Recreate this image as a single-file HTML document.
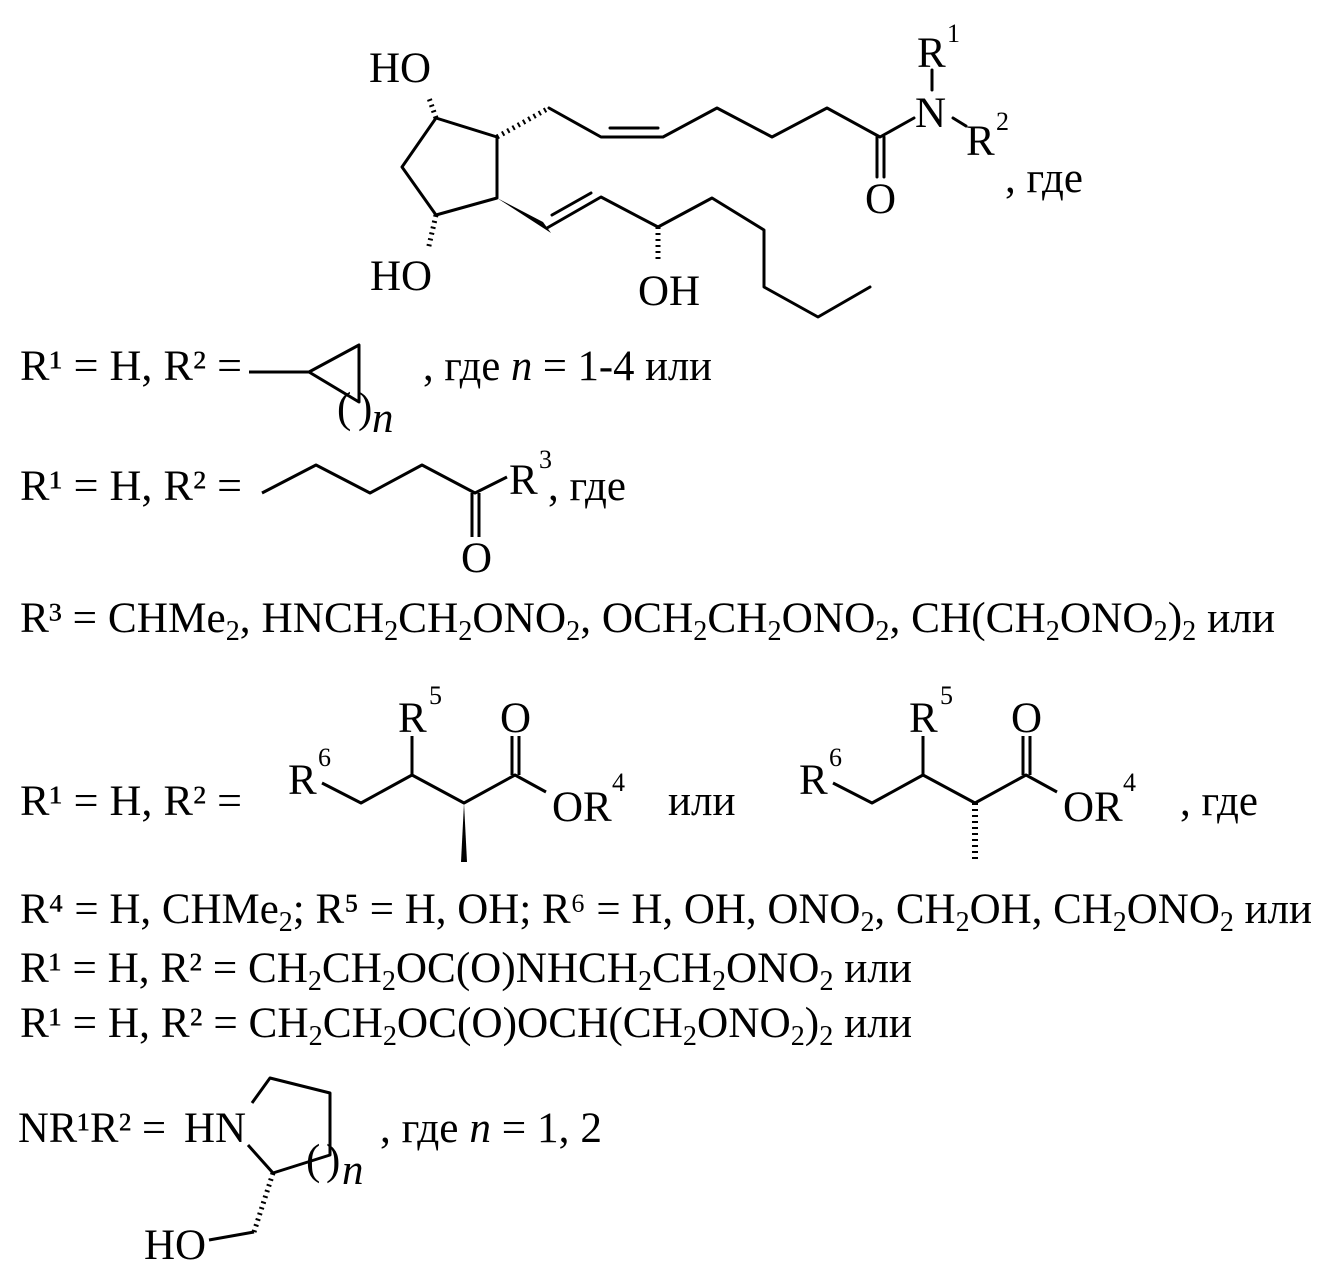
<!DOCTYPE html>
<html><head><meta charset="utf-8"><style>
html,body{margin:0;padding:0;background:#fff}
svg{display:block}
text{font-family:"Liberation Serif","Noto Serif CJK SC",serif;fill:#000}
</style></head><body>
<svg width="1340" height="1275" viewBox="0 0 1340 1275" xmlns="http://www.w3.org/2000/svg">
<g stroke="#000" stroke-width="3" fill="none" stroke-linejoin="round" stroke-linecap="round">
<polyline points="436,118 497,137 497,198 436,215 402,167 436,118"/>
<polyline points="549,108 601,137 663,137 717,108 772,137 827,108 880,137 914,118"/>
<line x1="610" y1="128" x2="658" y2="128"/>
<line x1="877" y1="137" x2="877" y2="177"/><line x1="884" y1="137" x2="884" y2="177"/>
<line x1="932" y1="70" x2="932" y2="90"/>
<line x1="953" y1="118" x2="966" y2="126"/>
<polyline points="547,228 601,197 658,227 712,198 764,230 764,287 818,317 870,287"/>
<line x1="552" y1="215" x2="591" y2="193"/>
</g>
<g stroke="#000" stroke-width="5" stroke-dasharray="2,4" fill="none">
<line x1="436" y1="118" x2="429" y2="98"/>
<line x1="436" y1="215" x2="428" y2="250"/>
<line x1="497" y1="137" x2="549" y2="108"/>
<line x1="658" y1="227" x2="658" y2="260"/>
</g>
<polygon points="497,198 543,222 551,233" fill="#000"/>
<g font-size="43">
<text x="369" y="82">HO</text>
<text x="370" y="290">HO</text>
<text x="638" y="305">OH</text>
<text x="865" y="213">O</text>
<text x="915" y="127">N</text>
<text x="917" y="67">R</text><text x="947" y="42" font-size="26">1</text>
<text x="966" y="155">R</text><text x="996" y="130" font-size="26">2</text>
<text x="1005" y="192">, где</text>
</g>

<g font-size="43">
<text x="20" y="380" textLength="222" lengthAdjust="spacingAndGlyphs">R¹ = H, R² =</text>
<text x="423" y="380" textLength="289" lengthAdjust="spacingAndGlyphs">, где <tspan font-style="italic">n</tspan> = 1-4 или</text>
<text x="337" y="422">(</text><text x="358" y="422">)</text><text x="372" y="432" font-style="italic">n</text>
</g>
<g stroke="#000" stroke-width="3" fill="none" stroke-linejoin="round">
<line x1="249" y1="372" x2="309" y2="372"/>
<polyline points="309,372 359,345 359,402 309,372"/>
</g>
<g stroke="#000" stroke-width="3" fill="none" stroke-linejoin="round">
<polyline points="262,493 316,465 370,493 422,465 475,493 507,477"/>
<line x1="472" y1="493" x2="472" y2="537"/><line x1="479" y1="493" x2="479" y2="537"/>
</g>
<g font-size="43">
<text x="20" y="500" textLength="222" lengthAdjust="spacingAndGlyphs">R¹ = H, R² =</text>
<text x="509" y="494">R</text><text x="539" y="468" font-size="26">3</text>
<text x="548" y="500">, где</text>
<text x="461" y="572">O</text>
<text x="20" y="632" textLength="1255" lengthAdjust="spacingAndGlyphs">R³ = CHMe<tspan font-size="28" dy="8">2</tspan><tspan dy="-8">, HNCH</tspan><tspan font-size="28" dy="8">2</tspan><tspan dy="-8">CH</tspan><tspan font-size="28" dy="8">2</tspan><tspan dy="-8">ONO</tspan><tspan font-size="28" dy="8">2</tspan><tspan dy="-8">, OCH</tspan><tspan font-size="28" dy="8">2</tspan><tspan dy="-8">CH</tspan><tspan font-size="28" dy="8">2</tspan><tspan dy="-8">ONO</tspan><tspan font-size="28" dy="8">2</tspan><tspan dy="-8">, CH(CH</tspan><tspan font-size="28" dy="8">2</tspan><tspan dy="-8">ONO</tspan><tspan font-size="28" dy="8">2</tspan><tspan dy="-8">)</tspan><tspan font-size="28" dy="8">2</tspan><tspan dy="-8"> или</tspan></text>
</g>
<g stroke="#000" stroke-width="3" fill="none" stroke-linejoin="round">
<polyline points="322,783 361,803 412,775 464,803 515,775 546,792"/>
<line x1="412" y1="775" x2="412" y2="736"/>
<line x1="512" y1="775" x2="512" y2="736"/><line x1="519" y1="775" x2="519" y2="736"/>
<polyline points="833,783 872,803 923,775 975,803 1026,775 1057,792"/>
<line x1="923" y1="775" x2="923" y2="736"/>
<line x1="1023" y1="775" x2="1023" y2="736"/><line x1="1030" y1="775" x2="1030" y2="736"/>
</g>
<polygon points="464,803 461,862 467,862" fill="#000"/>
<line x1="975" y1="803" x2="975" y2="862" stroke="#000" stroke-width="6" stroke-dasharray="2,4"/>
<g font-size="43">
<text x="20" y="815" textLength="222" lengthAdjust="spacingAndGlyphs">R¹ = H, R² =</text>
<text x="288" y="794">R</text><text x="318" y="766" font-size="26">6</text>
<text x="398" y="732">R</text><text x="429" y="704" font-size="26">5</text>
<text x="500" y="732">O</text>
<text x="552" y="821">OR</text><text x="612" y="791" font-size="26">4</text>
<text x="668" y="815">или</text>
<text x="799" y="794">R</text><text x="829" y="766" font-size="26">6</text>
<text x="909" y="732">R</text><text x="940" y="704" font-size="26">5</text>
<text x="1011" y="732">O</text>
<text x="1063" y="821">OR</text><text x="1123" y="791" font-size="26">4</text>
<text x="1180" y="815">, где</text>
</g>
<g font-size="43">
<text x="20" y="923" textLength="1292" lengthAdjust="spacingAndGlyphs">R⁴ = H, CHMe<tspan font-size="28" dy="8">2</tspan><tspan dy="-8">; R⁵ = H, OH; R⁶ = H, OH, ONO</tspan><tspan font-size="28" dy="8">2</tspan><tspan dy="-8">, CH</tspan><tspan font-size="28" dy="8">2</tspan><tspan dy="-8">OH, CH</tspan><tspan font-size="28" dy="8">2</tspan><tspan dy="-8">ONO</tspan><tspan font-size="28" dy="8">2</tspan><tspan dy="-8"> или</tspan></text>
<text x="20" y="982" textLength="892" lengthAdjust="spacingAndGlyphs">R¹ = H, R² = CH<tspan font-size="28" dy="8">2</tspan><tspan dy="-8">CH</tspan><tspan font-size="28" dy="8">2</tspan><tspan dy="-8">OC(O)NHCH</tspan><tspan font-size="28" dy="8">2</tspan><tspan dy="-8">CH</tspan><tspan font-size="28" dy="8">2</tspan><tspan dy="-8">ONO</tspan><tspan font-size="28" dy="8">2</tspan><tspan dy="-8"> или</tspan></text>
<text x="20" y="1037" textLength="892" lengthAdjust="spacingAndGlyphs">R¹ = H, R² = CH<tspan font-size="28" dy="8">2</tspan><tspan dy="-8">CH</tspan><tspan font-size="28" dy="8">2</tspan><tspan dy="-8">OC(O)OCH(CH</tspan><tspan font-size="28" dy="8">2</tspan><tspan dy="-8">ONO</tspan><tspan font-size="28" dy="8">2</tspan><tspan dy="-8">)</tspan><tspan font-size="28" dy="8">2</tspan><tspan dy="-8"> или</tspan></text>
</g>
<g stroke="#000" stroke-width="3" fill="none" stroke-linejoin="round">
<polyline points="252,1103 270,1078 330,1093 330,1155 273,1173 248,1145"/>
<line x1="254" y1="1232" x2="209" y2="1240"/>
</g>
<line x1="273" y1="1173" x2="254" y2="1232" stroke="#000" stroke-width="5" stroke-dasharray="2,4"/>
<g font-size="43">
<text x="18" y="1142" textLength="148" lengthAdjust="spacingAndGlyphs">NR¹R² =</text>
<text x="184" y="1142">HN</text>
<text x="306" y="1174">(</text><text x="326" y="1174">)</text><text x="342" y="1184" font-style="italic">n</text>
<text x="380" y="1142" textLength="222" lengthAdjust="spacingAndGlyphs">, где <tspan font-style="italic">n</tspan> = 1, 2</text>
<text x="144" y="1259">HO</text>
</g>
</svg>
</body></html>
